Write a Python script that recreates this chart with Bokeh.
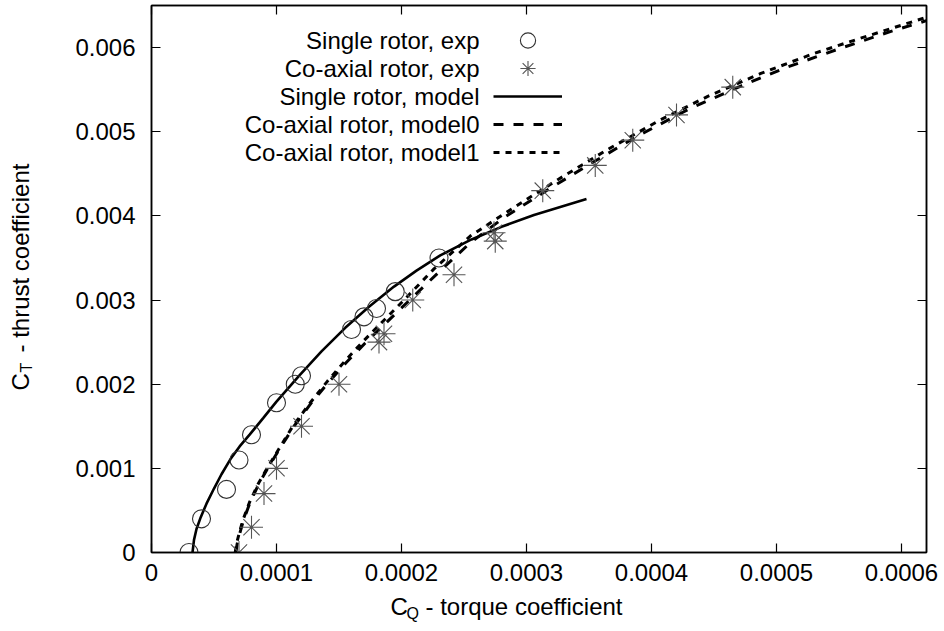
import math
from bokeh.plotting import figure
from bokeh.layouts import row, column
from bokeh.models import (Range1d, LinearAxis, FixedTicker, CustomJSTickFormatter,
                          Label, Legend, LegendItem)
from bokeh.embed import file_html
from bokeh.resources import INLINE

# ---------------- data ----------------
x_ticks = [0.0, 0.0001, 0.0002, 0.0003, 0.0004, 0.0005, 0.0006]
y_ticks = [0.0, 0.001, 0.002, 0.003, 0.004, 0.005, 0.006]

legend_labels = ["Single rotor, exp", "Co-axial rotor, exp", "Single rotor, model",
                 "Co-axial rotor, model0", "Co-axial rotor, model1"]

single_exp_cq = [3.0e-5, 4.0e-5, 6.0e-5, 7.0e-5, 8.0e-5, 1.0e-4, 1.15e-4, 1.2e-4,
                 1.6e-4, 1.7e-4, 1.8e-4, 1.95e-4, 2.3e-4]
single_exp_ct = [0.0, 0.0004, 0.00075, 0.0011, 0.0014, 0.00178, 0.002, 0.0021,
                 0.00265, 0.0028, 0.0029, 0.0031, 0.0035]

coax_exp_cq = [7.0e-5, 8.0e-5, 9.0e-5, 1.0e-4, 1.2e-4, 1.5e-4, 1.82e-4, 1.86e-4,
               2.09e-4, 2.42e-4, 2.74e-4, 2.75e-4, 3.13e-4, 3.55e-4, 3.85e-4, 4.2e-4, 4.65e-4]
coax_exp_ct = [0.0, 0.0003, 0.0007, 0.001, 0.0015, 0.002, 0.0025, 0.0026,
               0.003, 0.0033, 0.0038, 0.0037, 0.0043, 0.0046, 0.0049, 0.0052, 0.00553]

# model curves (CQ in units of 1e-5, CT in units of 1e-3)
single_model_cq_e5 = [3.28, 3.4, 3.6, 3.94, 4.4, 5.0, 5.6, 6.32, 7.05, 7.85, 8.95, 9.98, 11.1,
                      11.8, 13.6, 15.5, 17.4, 19.4, 21.2, 23.1, 25.6, 28.0, 30.6, 34.8]
single_model_ct_e3 = [0.0, 0.15, 0.28, 0.42, 0.58, 0.76, 0.93, 1.11, 1.26, 1.4, 1.6, 1.79, 1.98,
                      2.1, 2.39, 2.67, 2.92, 3.16, 3.35, 3.53, 3.72, 3.87, 4.01, 4.2]

model0_cq_e5 = [6.75, 6.85, 7.05, 7.35, 7.9, 8.6, 9.3, 10.2, 11.4, 12.8, 14.2, 15.6, 17.1,
                18.7, 20.3, 22.9, 25.5, 28.2, 31.7, 35.0, 38.9, 43.0, 47.1, 50.9, 54.9, 59.1, 62.0]
model0_ct_e3 = [0.0, 0.1, 0.22, 0.38, 0.6, 0.82, 1.0, 1.22, 1.5, 1.78, 2.03, 2.26, 2.49,
                2.72, 2.95, 3.32, 3.68, 3.98, 4.31, 4.61, 4.95, 5.27, 5.54, 5.77, 5.98, 6.19, 6.32]

model1_cq_e5 = [6.7, 6.8, 7.0, 7.3, 7.85, 8.55, 9.25, 10.15, 11.3, 12.7, 14.1, 15.5, 17.0,
                18.6, 20.2, 22.6, 25.5, 29.0, 32.5, 36.5, 40.7, 44.5, 48.7, 53.0, 56.7, 62.0]
model1_ct_e3 = [0.0, 0.1, 0.22, 0.38, 0.6, 0.82, 1.0, 1.22, 1.5, 1.78, 2.04, 2.28, 2.52,
                2.76, 3.0, 3.37, 3.76, 4.1, 4.43, 4.79, 5.14, 5.42, 5.69, 5.93, 6.11, 6.36]

single_model_cq = [v * 1e-5 for v in single_model_cq_e5]
single_model_ct = [v * 1e-3 for v in single_model_ct_e3]
model0_cq = [v * 1e-5 for v in model0_cq_e5]
model0_ct = [v * 1e-3 for v in model0_ct_e3]
model1_cq = [v * 1e-5 for v in model1_cq_e5]
model1_ct = [v * 1e-3 for v in model1_ct_e3]

# ---------------- geometry ----------------
FONT = "Liberation Sans"
FS = "24px"
SUB = "16px"
W, H = 944, 631
YT_W = 40            # width of the strip that carries the y title
MAIN_H = 594         # height of the main plot canvas
FRAME_L, FRAME_R, FRAME_T, FRAME_B = 151, 926, 5, 552   # frame edges on the page

# ---------------- main figure ----------------
p = figure(width=W - YT_W, height=MAIN_H, output_backend="svg", toolbar_location=None,
           x_range=Range1d(0, 0.00062), y_range=Range1d(0, 0.0065),
           min_border_left=FRAME_L - YT_W, min_border_right=W - FRAME_R,
           min_border_top=FRAME_T, min_border_bottom=MAIN_H - FRAME_B)
p.xgrid.visible = False
p.ygrid.visible = False
p.outline_line_color = "black"
p.outline_line_width = 1.5
p.background_fill_color = "white"
p.border_fill_color = "white"

def style_axis(ax, ticks):
    ax.ticker = FixedTicker(ticks=ticks)
    ax.major_tick_in = 9
    ax.major_tick_out = 0
    ax.minor_tick_line_color = None
    ax.axis_line_width = 1.5
    ax.axis_line_color = "black"
    ax.major_tick_line_color = "black"
    ax.major_tick_line_width = 1.2
    ax.major_label_text_font = FONT
    ax.major_label_text_font_size = FS
    ax.major_label_text_color = "black"
    ax.major_label_text_font_style = "normal"

style_axis(p.xaxis[0], x_ticks)
style_axis(p.yaxis[0], y_ticks)
p.xaxis[0].formatter = CustomJSTickFormatter(code="return Math.abs(tick) < 1e-12 ? '0' : tick.toFixed(4);")
p.yaxis[0].formatter = CustomJSTickFormatter(code="return Math.abs(tick) < 1e-12 ? '0' : tick.toFixed(3);")
p.xaxis[0].major_label_standoff = 11
p.yaxis[0].major_label_standoff = 16

top_ax = LinearAxis()
right_ax = LinearAxis()
p.add_layout(top_ax, "above")
p.add_layout(right_ax, "right")
top_ax.ticker = FixedTicker(ticks=x_ticks)
right_ax.ticker = FixedTicker(ticks=y_ticks)
for ax in (top_ax, right_ax):
    ax.major_tick_in = 9
    ax.major_tick_out = 0
    ax.minor_tick_line_color = None
    ax.axis_line_width = 1.5
    ax.major_tick_line_width = 1.2
    ax.major_label_text_font_size = "0px"
    ax.major_label_standoff = 0
    ax.major_label_text_alpha = 0

# ---------------- glyphs ----------------
r_sm = p.line(single_model_cq, single_model_ct, line_color="black", line_width=2.6)
r_m0 = p.line(model0_cq, model0_ct, line_color="black", line_width=3, line_dash="10 10")
r_m1 = p.line(model1_cq, model1_ct, line_color="black", line_width=3, line_dash="6 6")
r_se = p.scatter(single_exp_cq, single_exp_ct, marker="circle", size=18,
                 fill_color=None, line_color="#333333", line_width=1.1)
r_ce = p.scatter(coax_exp_cq, coax_exp_ct, marker="asterisk", size=23,
                 line_color="#555555", line_width=1.1)

# ---------------- legend (gnuplot style: text right-aligned, sample at right) ----------------
row_y0 = 40.0     # page y of first row centre
pitch = 28
gh = 38           # glyph box height (sets the size of legend markers)

for i, r in enumerate((r_se, r_ce, r_sm, r_m0, r_m1)):
    cy = row_y0 + i * pitch
    leg = Legend(items=[LegendItem(label=" ", renderers=[r])],
                 location=(493 - FRAME_L, FRAME_B - (cy + gh / 2)),
                 glyph_width=69, glyph_height=gh, label_height=gh, spacing=0,
                 padding=0, margin=0, label_standoff=0, label_width=1,
                 label_text_font_size="1px", border_line_color=None,
                 background_fill_alpha=0)
    p.add_layout(leg, "center")

for i, txt in enumerate(legend_labels):
    p.add_layout(Label(x=479 - FRAME_L, y=FRAME_B - (row_y0 + i * pitch),
                       x_units="screen", y_units="screen", text=txt,
                       text_align="right", text_baseline="middle",
                       text_font=FONT, text_font_size=FS, text_color="black"))

# ---------------- axis title strips ----------------
def strip(width, height):
    f = figure(width=width, height=height, output_backend="svg", toolbar_location=None,
               x_range=Range1d(0, width), y_range=Range1d(0, height),
               x_axis_location=None, y_axis_location=None,
               min_border=0, min_border_left=0, min_border_right=0,
               min_border_top=0, min_border_bottom=0)
    f.xgrid.visible = False
    f.ygrid.visible = False
    f.outline_line_color = None
    f.background_fill_color = "white"
    f.border_fill_color = "white"
    return f

ystrip = strip(YT_W, MAIN_H)
xstrip = strip(W, H - MAIN_H)

def lab(fig, x, y, text, size, angle=0.0):
    fig.add_layout(Label(x=x, y=y, x_units="screen", y_units="screen",
                         text=text, text_align="left", text_baseline="middle", angle=angle,
                         text_font=FONT, text_font_size=size, text_color="black"))

# x title: page y -> strip y measured from strip bottom (page 631)
lab(xstrip, 390, H - 606, "C", FS)
lab(xstrip, 406, H - 613, "Q", SUB)
lab(xstrip, 425, H - 606, "- torque coefficient", FS)

# y title: rotated; empirical correction of the rotated anchor
YSHIFT = 42
lab(ystrip, 20, MAIN_H - 390 - YSHIFT, "C", FS, math.pi / 2)
lab(ystrip, 26, MAIN_H - 372 - YSHIFT, "T", SUB, math.pi / 2)
lab(ystrip, 20, MAIN_H - 352 - YSHIFT, "- thrust coefficient", FS, math.pi / 2)

layout = column(row(ystrip, p, spacing=0), xstrip, spacing=0)

open("out.html", "w").write(file_html(layout, INLINE))
